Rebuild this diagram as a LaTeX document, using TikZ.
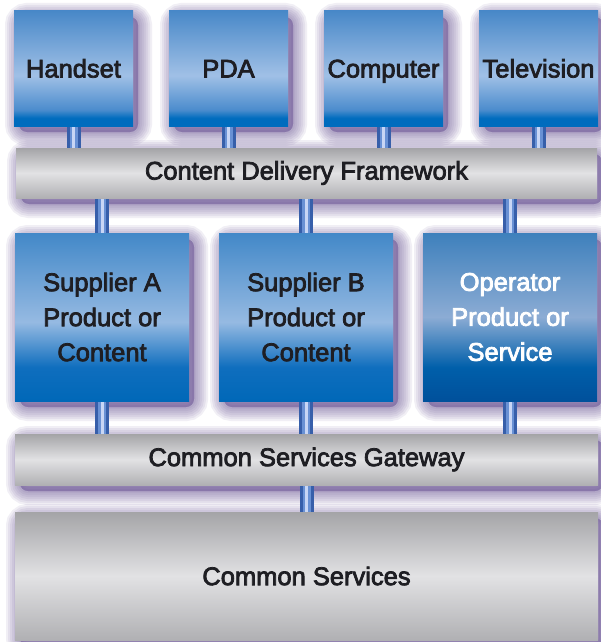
\documentclass[tikz,border=0pt]{standalone}
\usepackage{fontspec}
\newfontfamily\lblfont{Liberation Sans}[FakeBold=3]
\usepackage{xcolor}
\usetikzlibrary{positioning, backgrounds}

\definecolor{txtdark}{RGB}{30,30,35}
\definecolor{shadowc}{RGB}{95,72,142}
\definecolor{pipeedge}{RGB}{55,95,170}
\definecolor{pipemid}{RGB}{105,145,212}
\definecolor{pipelight}{RGB}{200,214,245}
\definecolor{bartop}{RGB}{164,164,167}
\definecolor{barmid}{RGB}{226,226,228}
\definecolor{barbot}{RGB}{176,176,179}
\definecolor{devtop}{RGB}{72,136,200}
\definecolor{devlight}{RGB}{160,192,230}
\definecolor{devlow}{RGB}{75,140,205}
\definecolor{devdark}{RGB}{0,108,190}
\definecolor{suptop}{RGB}{66,136,200}
\definecolor{suplight}{RGB}{150,186,226}
\definecolor{suplow}{RGB}{15,110,190}
\definecolor{supdark}{RGB}{0,104,184}
\definecolor{optop}{RGB}{62,128,188}
\definecolor{oplight}{RGB}{140,172,212}
\definecolor{oplow}{RGB}{0,95,170}
\definecolor{opdark}{RGB}{0,80,155}

% vertical shadings, stops from bottom (25bp) to top (75bp)
\pgfdeclareverticalshading{devshade}{100bp}{color(0bp)=(devdark); color(28.5bp)=(devdark);
  color(32bp)=(devlow); color(47bp)=(devlight); color(75bp)=(devtop); color(100bp)=(devtop)}
\pgfdeclareverticalshading{supshade}{100bp}{color(0bp)=(supdark); color(25bp)=(supdark);
  color(35bp)=(suplow); color(48.5bp)=(suplight); color(75bp)=(suptop); color(100bp)=(suptop)}
\pgfdeclareverticalshading{opshade}{100bp}{color(0bp)=(opdark); color(25bp)=(opdark);
  color(35bp)=(oplow); color(50bp)=(oplight); color(75bp)=(optop); color(100bp)=(optop)}

\tikzset{
  bluebox/.style = {
    rectangle, inner sep=0pt, outer sep=0pt, align=center,
    text=txtdark, font=\lblfont\fontsize{25.5}{35}\selectfont
  },
  device/.style = {
    bluebox, shading=devshade,
    minimum width=119pt, minimum height=115pt,
    text height=18pt, text depth=0pt
  },
  supplier/.style = {
    bluebox, shading=supshade,
    minimum width=174pt, minimum height=168pt
  },
  operator/.style = {supplier, shading=opshade, text=white},
  bar/.style = {
    rectangle, top color=bartop, bottom color=barbot, middle color=barmid,
    minimum width=583pt, minimum height=51pt,
    inner sep=0pt, outer sep=0pt,
    text=txtdark, font=\lblfont\fontsize{25.5}{35}\selectfont
  },
  pipe/.style = {
    line width=14pt, draw=pipeedge,
    postaction={draw=pipemid, line width=8pt},
    postaction={draw=pipelight, line width=3pt}
  },
  haze/.style = {fill=shadowc, draw=shadowc, opacity=0.085, rounded corners=8pt}
}

\begin{document}
\begin{tikzpicture}[x=1pt, y=1pt, node distance=36pt]
\useasboundingbox (0,0) rectangle (600,-642);

% client devices
\node[device] (handset) at (73.5,-68.5) {Handset};
\node[device, right=of handset] (pda) {PDA};
\node[device, right=of pda] (computer) {Computer};
\node[device, right=of computer] (tv) {Television};

\node[bar, minimum width=581pt, minimum height=50pt,
      below=22pt of handset.south west, anchor=north west, xshift=2pt] (cdf)
      {Content Delivery Framework};

% suppliers and operator
\node[supplier, below=35pt of cdf.south west, anchor=north west, xshift=-1pt] (supA)
      {Supplier A\\Product or\\Content};
\node[supplier, right=30pt of supA] (supB)
      {Supplier B\\Product or\\Content};
\node[operator, right=30pt of supB] (oper)
      {Operator\\Product or\\Service};

\node[bar, below=33pt of supA.south west, anchor=north west] (gateway)
      {Common Services Gateway};
\node[bar, minimum height=128pt, below=27pt of gateway] (common)
      {Common Services};

\begin{scope}[on background layer]
  \fill[white] (0,0) rectangle (600,-642);
  % soft shadows
  \foreach \n in {handset, pda, computer, tv, cdf, supA, supB, oper, gateway, common}
    \foreach \w in {28, 24, 20, 16, 12, 8, 4}
      \filldraw[haze, line width=\w pt]
        ([shift={(5pt,-6pt)}]\n.south west) rectangle ([shift={(5pt,-6pt)}]\n.north east);
  % pipes
  \foreach \n in {handset, pda, computer, tv}
    \draw[pipe] (\n) -- (\n |- cdf);
  \foreach \n in {supA, supB, oper}
    \draw[pipe] (\n |- cdf) -- (\n |- gateway);
  \draw[pipe] (gateway) -- (common);
\end{scope}

\end{tikzpicture}
\end{document}
